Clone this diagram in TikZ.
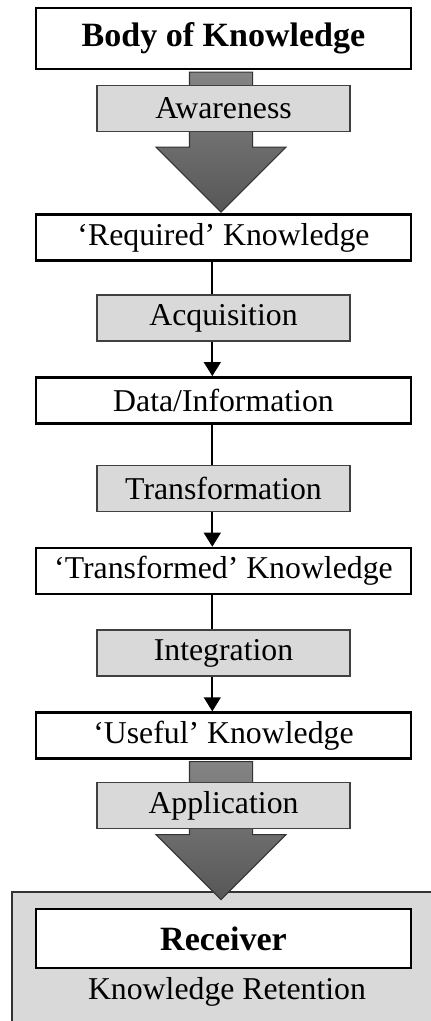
\documentclass[tikz,border=0pt]{standalone}
\usepackage{fontspec}
\setmainfont{Liberation Serif}
\usetikzlibrary{arrows.meta}
\usetikzlibrary{shapes.arrows}

\begin{document}
\begin{tikzpicture}[every node/.style={font=\fontsize{22.6}{27}\selectfont, inner sep=0pt},
  knowbox/.style={draw, fill=white, line width=1.8pt, minimum width=9.375cm, minimum height=1.15cm},
  stagebox/.style={draw=black!75, fill=black!15, line width=0.8pt, minimum width=6.325cm, minimum height=1.15cm},
  bigarrow/.style={single arrow, shape border rotate=270, draw=black!80, line width=0.8pt, top color=black!48, bottom color=black!66, inner sep=0.775cm, minimum width=3.225cm, single arrow head extend=0.8375cm, anchor=tail},
  link/.style={line width=1.4pt},
  tip/.style={-{Triangle[width=12pt, length=10pt]}}]
\useasboundingbox (0,0) rectangle (10.775,-25.525);

\node[knowbox, line width=2pt, minimum height=1.525cm, font=\fontsize{24.2}{29}\selectfont\bfseries] (body) at (5.5875,-0.9625) {Body of Knowledge};
\node[knowbox] (req) at (5.5875,-5.94) {‘Required’ Knowledge};
\node[knowbox] (data) at (5.5875,-10.01) {Data/Information};
\node[knowbox] (transf) at (5.5875,-14.275) {‘Transformed’ Knowledge};
\node[knowbox] (useful) at (5.5875,-18.39) {‘Useful’ Knowledge};

\node[draw=black!80, fill=black!15, line width=1pt, minimum width=10.95cm, minimum height=3.95cm] (panel) at (5.775,-24.275) {};
\node[knowbox, minimum height=1.475cm, font=\fontsize{24.2}{29}\selectfont\bfseries] (receiver) at (5.5875,-23.4625) {Receiver};
\node (retention) at (5.675,-24.8) {Knowledge Retention};

\node[bigarrow, minimum height=3.5cm] (arrow1) at ([xshift=-0.0625cm, yshift=-0.03cm]body.south) {};
\node[bigarrow, minimum height=3.45cm] (arrow2) at ([xshift=-0.0625cm, yshift=-0.03cm]useful.south) {};

\node[stagebox] (aware) at (5.5875,-2.71) {Awareness};
\node[stagebox] (acq) at (5.5875,-7.95) {Acquisition};
\node[stagebox] (transform) at (5.5875,-12.21) {Transformation};
\node[stagebox] (integ) at (5.5875,-16.325) {Integration};
\node[stagebox] (appl) at (5.5875,-20.14) {Application};

\draw[link] ([xshift=-0.28cm]req.south) -- ([xshift=-0.28cm]acq.north);
\draw[link, tip] ([xshift=-0.28cm]acq.south) -- ([xshift=-0.28cm]data.north);
\draw[link] ([xshift=-0.28cm]data.south) -- ([xshift=-0.28cm]transform.north);
\draw[link, tip] ([xshift=-0.28cm]transform.south) -- ([xshift=-0.28cm]transf.north);
\draw[link] ([xshift=-0.28cm]transf.south) -- ([xshift=-0.28cm]integ.north);
\draw[link, tip] ([xshift=-0.28cm]integ.south) -- ([xshift=-0.28cm]useful.north);
\end{tikzpicture}
\end{document}
